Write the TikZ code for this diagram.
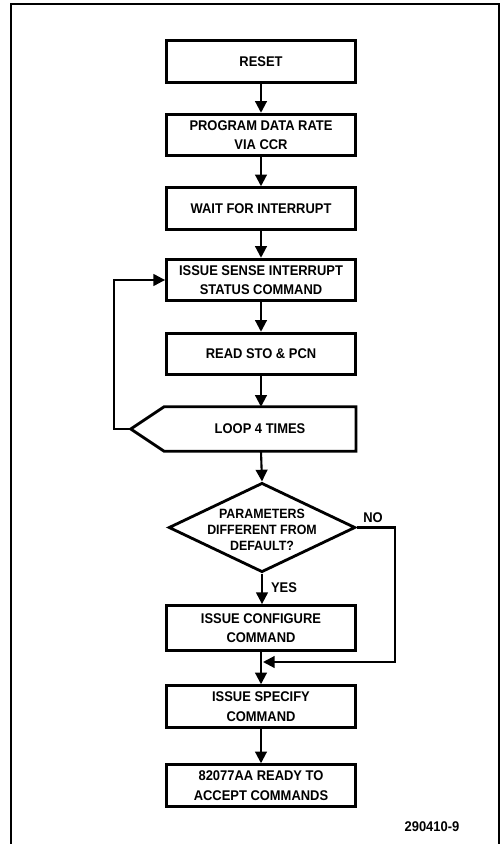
\documentclass[tikz,border=0pt]{standalone}
\usepackage{fontspec}
\setmainfont[FakeStretch=0.92]{Liberation Sans}
\usetikzlibrary{shapes.geometric,arrows.meta}

\begin{document}
\begin{tikzpicture}[x=0.03cm,y=-0.03cm,
  every node/.style={align=center,font=\bfseries\fontsize{12}{16.5}\selectfont},
  box/.style={draw,line width=2.4pt,minimum width=5.67cm,minimum height=1.25cm,inner sep=0pt},
  flow/.style={line width=1.8pt,-{Triangle[length=10pt,width=10pt]}}]
\useasboundingbox (0,0) rectangle (503,844);
\draw[line width=1.5pt] (11,844) -- (11,4) -- (499,4) -- (499,844);

\node[box] (reset) at (261,61.5) {RESET};
\node[box] (prog) at (261,135) {PROGRAM DATA RATE\\VIA CCR};
\node[box] (wait) at (261,208.5) {WAIT FOR INTERRUPT};
\node[box] (sense) at (261,280) {ISSUE SENSE INTERRUPT\\STATUS COMMAND};
\node[box] (read) at (261,354) {READ STO \& PCN};
\node[box,draw=none] (loop) at (260,429) {LOOP 4 TIMES};
\coordinate (looptip) at ([xshift=-1cm]loop.west);
\draw[line width=2.4pt] (loop.north east) -- (loop.north west) -- (looptip) -- (loop.south west) -- (loop.south east) -- cycle;
\node[draw,diamond,line width=2.4pt,minimum width=5.6cm,minimum height=2.68cm,inner sep=0pt] (param) at (262,527.5) {};
\node[font=\bfseries\fontsize{11.5}{14}\selectfont] (paramtext) at ([yshift=-2pt]param.center) {PARAMETERS\\DIFFERENT FROM\\DEFAULT?};
\node[box,minimum height=1.35cm] (config) at (261,628) {ISSUE CONFIGURE\\COMMAND};
\node[box] (spec) at (261,706.5) {ISSUE SPECIFY\\COMMAND};
\node[box] (ready) at (261,785.5) {82077AA READY TO\\ACCEPT COMMANDS};
\node (no) at (373,518) {NO};
\node (yes) at (284,588) {YES};
\node (fig) at (432,827) {290410-9};

\draw[flow] (reset) -- (prog);
\draw[flow] (prog) -- (wait);
\draw[flow] (wait) -- (sense);
\draw[flow] (sense) -- (read);
\draw[flow] (read) -- (read|-loop.north);
\draw[flow] (looptip) -- ++(-17,0) |- (sense.west);
\draw[flow] (read|-loop.south) -- (param.north);
\draw[flow] (param.south) -- (param.south|-config.north);
\draw[flow] (config) -- (spec);
\coordinate (nocorner) at (395,662);
\coordinate (merge) at (263,662);
\draw[flow] (param.east) -| (nocorner) -- (merge);
\draw[flow] (spec) -- (ready);
\end{tikzpicture}
\end{document}
